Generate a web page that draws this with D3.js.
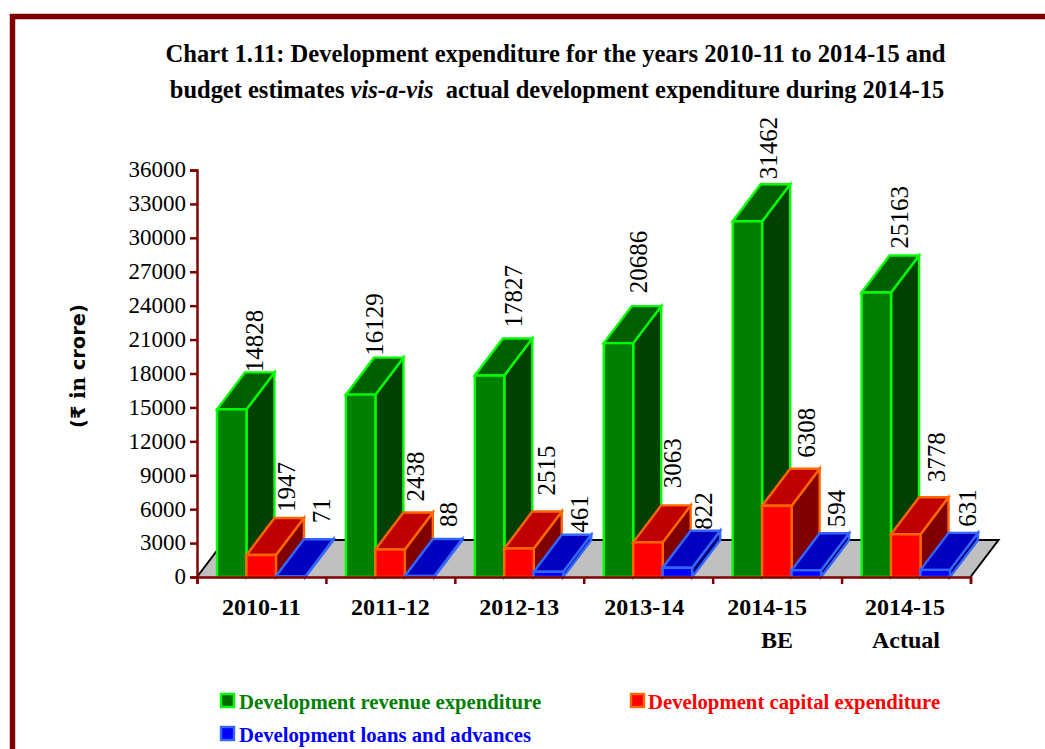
<!DOCTYPE html>
<html><head><meta charset="utf-8">
<script src="https://cdn.jsdelivr.net/npm/d3@7"></script>
<style>html,body{margin:0;padding:0;background:#fff;overflow:hidden}svg{display:block}</style>
</head><body><svg id="c" width="1045" height="749"></svg>
<script>
const categories = ["2010-11","2011-12","2012-13","2013-14","2014-15|BE","2014-15|Actual"];
const seriesNames = ["Development revenue expenditure","Development capital expenditure","Development loans and advances"];
const revenue = [14828,16129,17827,20686,31462,25163];
const capital = [1947,2438,2515,3063,6308,3778];
const loans = [71,88,461,822,594,631];
const yTicks = [0,3000,6000,9000,12000,15000,18000,21000,24000,27000,30000,33000,36000];
const serif = "'Liberation Serif','Times New Roman',serif";
const palette = [
 {front:"#008000",top:"#006000",side:"#004000",stroke:"#00ff00",text:"#008000",key:"#006c00"},
 {front:"#ff0000",top:"#bf0000",side:"#800000",stroke:"#ff6600",text:"#ff0000",key:"#ff0000"},
 {front:"#0000ff",top:"#0000bf",side:"#000080",stroke:"#3366ff",text:"#0000ff",key:"#0000ff"}];
const values = [revenue,capital,loans];
// hand-placed label nudges from the automatic anchor, per series and category
const labelNudgeX = [[-5,-14,-4,-7,-6,-4],[-2,-2,0,-3,2,3],[3,1,3,-1,3,5]];
const labelNudgeY = [[0,-2,-11,-13,-5,-7],[-6,-11,-16,-17,-11,-15],[-16,-12,-2,-1,-6,-6]];
// first-line category label nudges
const catNudgeX = [0,0,0,-4,-10,-1];
const DX = 28, DY = -37, AXIS = "#800000", SX = 0.965;

const svg = d3.select("#c");
svg.append("path").attr("d","M12.5,749V16.5H1045").attr("fill","none").attr("stroke",AXIS).attr("stroke-width",5.5);

const title = svg.append("g").attr("font-family",serif).attr("font-weight","bold").attr("font-size",25.5).attr("fill","#000").attr("text-anchor","middle");
title.append("text").attr("transform",`translate(555.5,62) scale(${SX},1)`).text("Chart 1.11: Development expenditure for the years 2010-11 to 2014-15 and");
const t2 = title.append("text").attr("transform",`translate(557,98) scale(${SX-0.005},1)`);
t2.append("tspan").text("budget estimates ");
t2.append("tspan").attr("font-style","italic").text("vis-a-vis");
t2.append("tspan").text("\u00a0 actual development expenditure during 2014-15");

const x = d3.scaleBand().domain(categories).range([197,970.5]);
const inner = d3.scaleBand().domain([0,1,2]).range([20,108.4]);
const y = d3.scaleLinear().domain([0,36000]).range([577,170]);

// floor
const x0=x.range()[0], x1=x.range()[1], y0=y(0);
svg.append("path").attr("d",`M${x0},${y0}L${x0+DX},${y0+DY}H${x1+DX}L${x1},${y0}Z`).attr("fill","#c0c0c0");
svg.append("path").attr("d",`M${x0},${y0}L${x0+DX},${y0+DY}H${x1+DX}L${x1},${y0}`).attr("fill","none").attr("stroke","#000").attr("stroke-width",2);

// value labels sit under the bars, which clip a few of them
const labelLayer = svg.append("g").attr("font-family",serif).attr("font-size",25).attr("fill","#000");

// bars
const bars = svg.append("g").attr("stroke-width",2.4).attr("stroke-linejoin","miter");
const labels = [];
categories.forEach((c,i)=>{
  [0,1,2].forEach(s=>{
    const v = values[s][i], p = palette[s];
    const l = x(c)+inner(s), w = inner.bandwidth(), r = l+w, t = y(v), b = y(0);
    const g = bars.append("g").attr("stroke",p.stroke);
    g.append("path").attr("fill",p.side).attr("d",`M${r},${t}L${r+DX},${t+DY}V${b+DY}L${r},${b}Z`);
    g.append("path").attr("fill",p.top).attr("d",`M${l},${t}L${l+DX},${t+DY}H${r+DX}L${r},${t}Z`);
    g.append("path").attr("fill",p.front).attr("d",`M${l},${t}H${r}V${b}H${l}Z`);
    labels.push({v, bx:l+w/2+DX+8+labelNudgeX[s][i], by:t+DY+labelNudgeY[s][i]});
  });
});
labelLayer.selectAll("text").data(labels).join("text")
 .attr("transform",d=>`translate(${d.bx},${d.by}) rotate(-90)`)
 .text(d=>d.v);

// axes
const yAxis = d3.axisLeft(y).tickValues(yTicks).tickFormat(d3.format("d")).tickSize(7).tickPadding(4);
const gy = svg.append("g").attr("transform",`translate(${x0},0)`).call(yAxis);
gy.selectAll("path,line").attr("stroke",AXIS).attr("stroke-width",2.5);
gy.selectAll("text").attr("font-family",serif).attr("font-size",23).attr("fill","#000").attr("dy","0.3em");

const xAxis = d3.axisBottom(d3.scaleLinear().domain([0,6]).range([x0,x1])).ticks(6).tickFormat("").tickSize(7);
const gx = svg.append("g").attr("transform",`translate(0,${y0})`).call(xAxis);
gx.selectAll("path,line").attr("stroke",AXIS).attr("stroke-width",2.5);

// category labels
const cl = svg.append("g").attr("font-family",serif).attr("font-weight","bold").attr("font-size",24).attr("fill","#000").attr("text-anchor","middle");
categories.forEach((c,i)=>{
  c.split("|").forEach((line,k)=>{
    cl.append("text").attr("x",x(c)+x.bandwidth()/2+(k===0?catNudgeX[i]:0)).attr("y",615+k*33).text(line);
  });
});

// y title
const yt = svg.append("text").attr("transform","translate(85,366) rotate(-90)").attr("text-anchor","middle")
 .attr("font-family","'DejaVu Sans',sans-serif").attr("font-weight","bold").attr("font-size",19.5).attr("fill","#000");
yt.append("tspan").text("(\u20b9 ");
yt.append("tspan").attr("font-family","'DejaVu Serif',serif").text("in");
yt.append("tspan").text(" crore)");

// legend
const legendPos = [[221,694,239,709],[631,694,648,709],[221,727,239,742]];
const leg = svg.append("g");
seriesNames.forEach((n,i)=>{
  const p = palette[i], q = legendPos[i];
  leg.append("rect").attr("x",q[0]).attr("y",q[1]).attr("width",13).attr("height",13).attr("fill",p.key).attr("stroke",p.stroke).attr("stroke-width",2.4);
  leg.append("text").attr("transform",`translate(${q[2]},${q[3]}) scale(${SX},1)`).attr("font-family",serif).attr("font-weight","bold").attr("font-size",21.5).attr("fill",p.text).text(n);
});
</script></body></html>
